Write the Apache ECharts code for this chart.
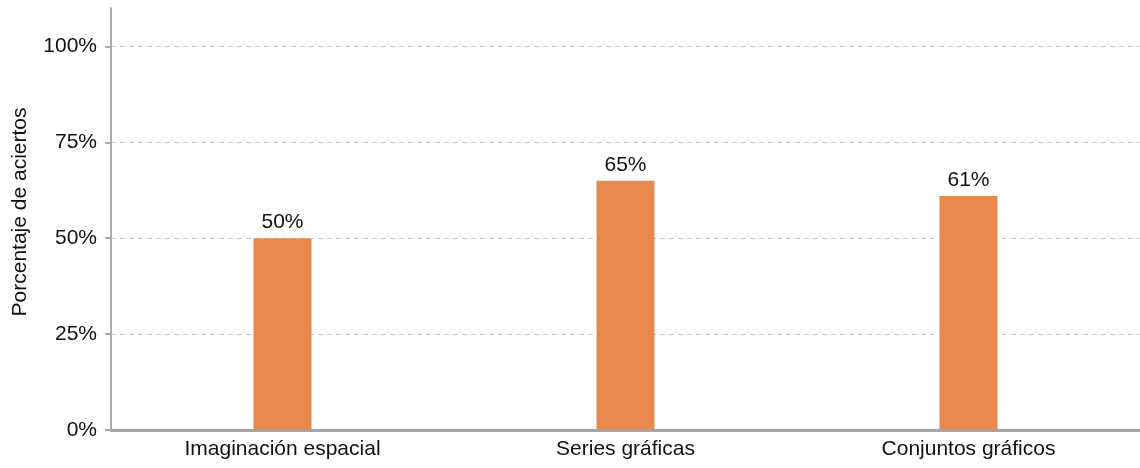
<!DOCTYPE html>
<html>
<head>
<meta charset="utf-8">
<script src="https://cdn.jsdelivr.net/npm/echarts@6/dist/echarts.min.js"></script>
<style>
html,body{margin:0;padding:0;background:#fff;}
#chart{width:1140px;height:468px;}
</style>
</head>
<body>
<div id="chart"></div>
<script>
const categories = ['Imaginación espacial', 'Series gráficas', 'Conjuntos gráficos'];
const values = [50, 65, 61];
const yTicks = [0, 25, 50, 75, 100];
const yName = 'Porcentaje de aciertos';

const font = 'Liberation Sans, Arial, sans-serif';
const chart = echarts.init(document.getElementById('chart'));
chart.setOption({
  animation: false,
  grid: { left: 111, right: 0, top: 8, bottom: 38, containLabel: false },
  xAxis: {
    type: 'category',
    data: categories,
    axisLine: { show: true, lineStyle: { color: '#a6a6a6', width: 3 } },
    axisTick: { show: false },
    axisLabel: { color: '#111111', fontSize: 21, fontFamily: font, margin: 9 },
    splitLine: { show: false }
  },
  yAxis: {
    type: 'value',
    min: 0,
    max: 110,
    interval: 25,
    name: yName,
    nameLocation: 'middle',
    nameGap: 80,
    nameTextStyle: { color: '#111111', fontSize: 21, fontFamily: font, padding: [0, 0, 0, 14] },
    axisLine: { show: true, lineStyle: { color: '#aaaaaa', width: 2 } },
    axisTick: { show: true, length: 6, lineStyle: { color: '#aaaaaa', width: 2 }, customValues: yTicks },
    axisLabel: {
      color: '#111111', fontSize: 21, fontFamily: font, margin: 14,
      customValues: yTicks,
      formatter: v => v + '%'
    },
    splitLine: { show: true, showMinLine: false, showMaxLine: true, lineStyle: { color: '#c8c8c8', width: 1, type: [5, 4] } }
  },
  series: [{
    type: 'bar',
    data: values,
    barWidth: 58,
    itemStyle: { color: '#e8894e' },
    label: {
      show: true, position: 'top', distance: 5,
      color: '#111111', fontSize: 21, fontFamily: font,
      formatter: p => p.value + '%'
    }
  }]
});
</script>
</body>
</html>
